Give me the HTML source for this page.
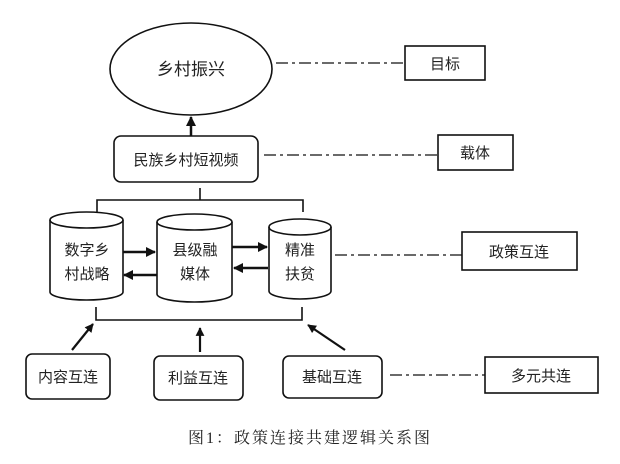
<!DOCTYPE html>
<html><head><meta charset="utf-8"><style>
html,body{margin:0;padding:0;background:#fff;}
svg text{font-family:"Liberation Sans","Noto Sans CJK SC",sans-serif;font-size:15px;fill:#222;text-anchor:middle;}
</style></head><body>
<svg width="620" height="459" viewBox="0 0 620 459" xmlns="http://www.w3.org/2000/svg">
<defs>
<marker id="ah" viewBox="0 0 10 10" refX="9" refY="5" markerWidth="4" markerHeight="4" orient="auto"><path d="M0,0L10,5L0,10z" fill="#111"/></marker>
</defs>
<g stroke="#111" fill="none" stroke-width="1.6">
<ellipse cx="191" cy="69" rx="81" ry="46" fill="#fff"/>
<rect x="405" y="46" width="80" height="34"/>
<line x1="276" y1="63" x2="405" y2="63" stroke-dasharray="12,4,3,4" stroke-width="1.3"/>
<line x1="191" y1="136" x2="191" y2="117" stroke-width="2.5" marker-end="url(#ah)"/>
<rect x="114" y="136" width="144" height="46" rx="7"/>
<rect x="438" y="135" width="75" height="35"/>
<line x1="264" y1="155" x2="438" y2="155" stroke-dasharray="12,4,3,4" stroke-width="1.3"/>
<path d="M97,212V200H303V212M200,200V188"/>
<path d="M50,220V292A36.5,8 0 0 0 123,292V220"/><ellipse cx="86.5" cy="220" rx="36.5" ry="8"/>
<path d="M157,222V294A37.5,8 0 0 0 232,294V222"/><ellipse cx="194.5" cy="222" rx="37.5" ry="8"/>
<path d="M269,227V291A31,8 0 0 0 331,291V227"/><ellipse cx="300" cy="227" rx="31" ry="8"/>
<line x1="123" y1="252" x2="155" y2="252" stroke-width="2.5" marker-end="url(#ah)"/>
<line x1="157" y1="275" x2="124" y2="275" stroke-width="2.5" marker-end="url(#ah)"/>
<line x1="232" y1="247" x2="267" y2="247" stroke-width="2.5" marker-end="url(#ah)"/>
<line x1="268" y1="268" x2="234" y2="268" stroke-width="2.5" marker-end="url(#ah)"/>
<rect x="462" y="232" width="115" height="38"/>
<line x1="335" y1="255" x2="462" y2="255" stroke-dasharray="12,4,3,4" stroke-width="1.3"/>
<path d="M96,307V320H302V307"/>
<line x1="72" y1="350" x2="93" y2="324" stroke-width="2.2" marker-end="url(#ah)"/>
<line x1="200" y1="352" x2="200" y2="328" stroke-width="2.2" marker-end="url(#ah)"/>
<line x1="345" y1="350" x2="308" y2="325" stroke-width="2.2" marker-end="url(#ah)"/>
<rect x="26" y="354" width="84" height="45" rx="6"/>
<rect x="154" y="356" width="89" height="44" rx="6"/>
<rect x="283" y="356" width="99" height="42" rx="6"/>
<rect x="485" y="357" width="113" height="36"/>
<line x1="390" y1="375" x2="485" y2="375" stroke-dasharray="12,4,3,4" stroke-width="1.3"/>
</g>
<text x="191" y="75" style="font-size:17px">乡村振兴</text>
<text x="445" y="69">目标</text>
<text x="186" y="165">民族乡村短视频</text>
<text x="475" y="158">载体</text>
<text x="87" y="255">数字乡</text><text x="87" y="279">村战略</text>
<text x="195" y="255">县级融</text><text x="195" y="279">媒体</text>
<text x="300" y="255">精准</text><text x="300" y="279">扶贫</text>
<text x="519" y="257">政策互连</text>
<text x="68" y="382">内容互连</text>
<text x="198" y="383">利益互连</text>
<text x="332" y="382">基础互连</text>
<text x="541" y="381">多元共连</text>
<text x="310" y="443" style="font-family:'Liberation Serif','Noto Serif CJK SC',serif;font-size:16px;letter-spacing:2px">图1：政策连接共建逻辑关系图</text>
</svg>
</body></html>
